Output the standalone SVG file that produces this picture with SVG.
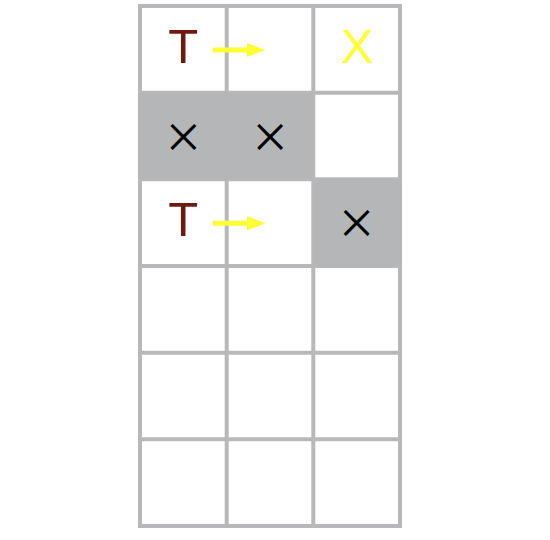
<svg xmlns="http://www.w3.org/2000/svg" width="550" height="540" viewBox="0 0 550 540">
<style>
.grid line{stroke:#b8b8ba;stroke-width:4;stroke-linecap:square}
.shade{fill:#b5b6b8}
.t{font-family:"Liberation Sans",Arial,sans-serif;font-size:49px;fill:#6e1a10;text-anchor:middle}
.x{font-family:"Liberation Sans",Arial,sans-serif;font-size:49px;fill:#ffff33;text-anchor:middle}
.m{font-family:"DejaVu Sans",sans-serif;font-weight:200;font-size:48px;fill:#000;stroke:#000;stroke-width:0.7;text-anchor:middle}
.arr{stroke:#ffff33;stroke-width:5}
.head{fill:#ffff33}
</style>
<rect width="550" height="540" fill="#fff"/>
<g class="grid">
<line x1="140" y1="6" x2="140" y2="526"/>
<line x1="226.7" y1="6" x2="226.7" y2="526"/>
<line x1="313.3" y1="6" x2="313.3" y2="526"/>
<line x1="400" y1="6" x2="400" y2="526"/>
<line x1="140" y1="6" x2="400" y2="6"/>
<line x1="140" y1="92.7" x2="400" y2="92.7"/>
<line x1="140" y1="179.3" x2="400" y2="179.3"/>
<line x1="140" y1="266" x2="400" y2="266"/>
<line x1="140" y1="352.7" x2="400" y2="352.7"/>
<line x1="140" y1="439.3" x2="400" y2="439.3"/>
<line x1="140" y1="526" x2="400" y2="526"/>
</g>
<g id="cell-r1c1"><text class="t" x="183.3" y="63">T</text></g>
<g id="cell-r1c3"><text class="x" x="357" y="63">X</text></g>
<g id="cell-r2c1-2"><rect class="shade" x="138" y="92.7" width="175.3" height="86.6"/>
<text class="m" x="183.3" y="151.5">×</text><text class="m" x="270" y="151.5">×</text></g>
<g id="cell-r3c1"><text class="t" x="183.3" y="236">T</text></g>
<g id="cell-r3c3"><rect class="shade" x="313.3" y="179.3" width="88.7" height="86.7"/>
<text class="m" x="356.7" y="238">×</text></g>
<g id="connectors">
<line class="arr" x1="213" y1="50" x2="249" y2="50"/>
<polygon class="head" points="247,43 265.5,50 247,57"/>
<line class="arr" x1="213" y1="223.3" x2="249" y2="223.3"/>
<polygon class="head" points="247,216.3 265.5,223.3 247,230.3"/>
</g>
</svg>
